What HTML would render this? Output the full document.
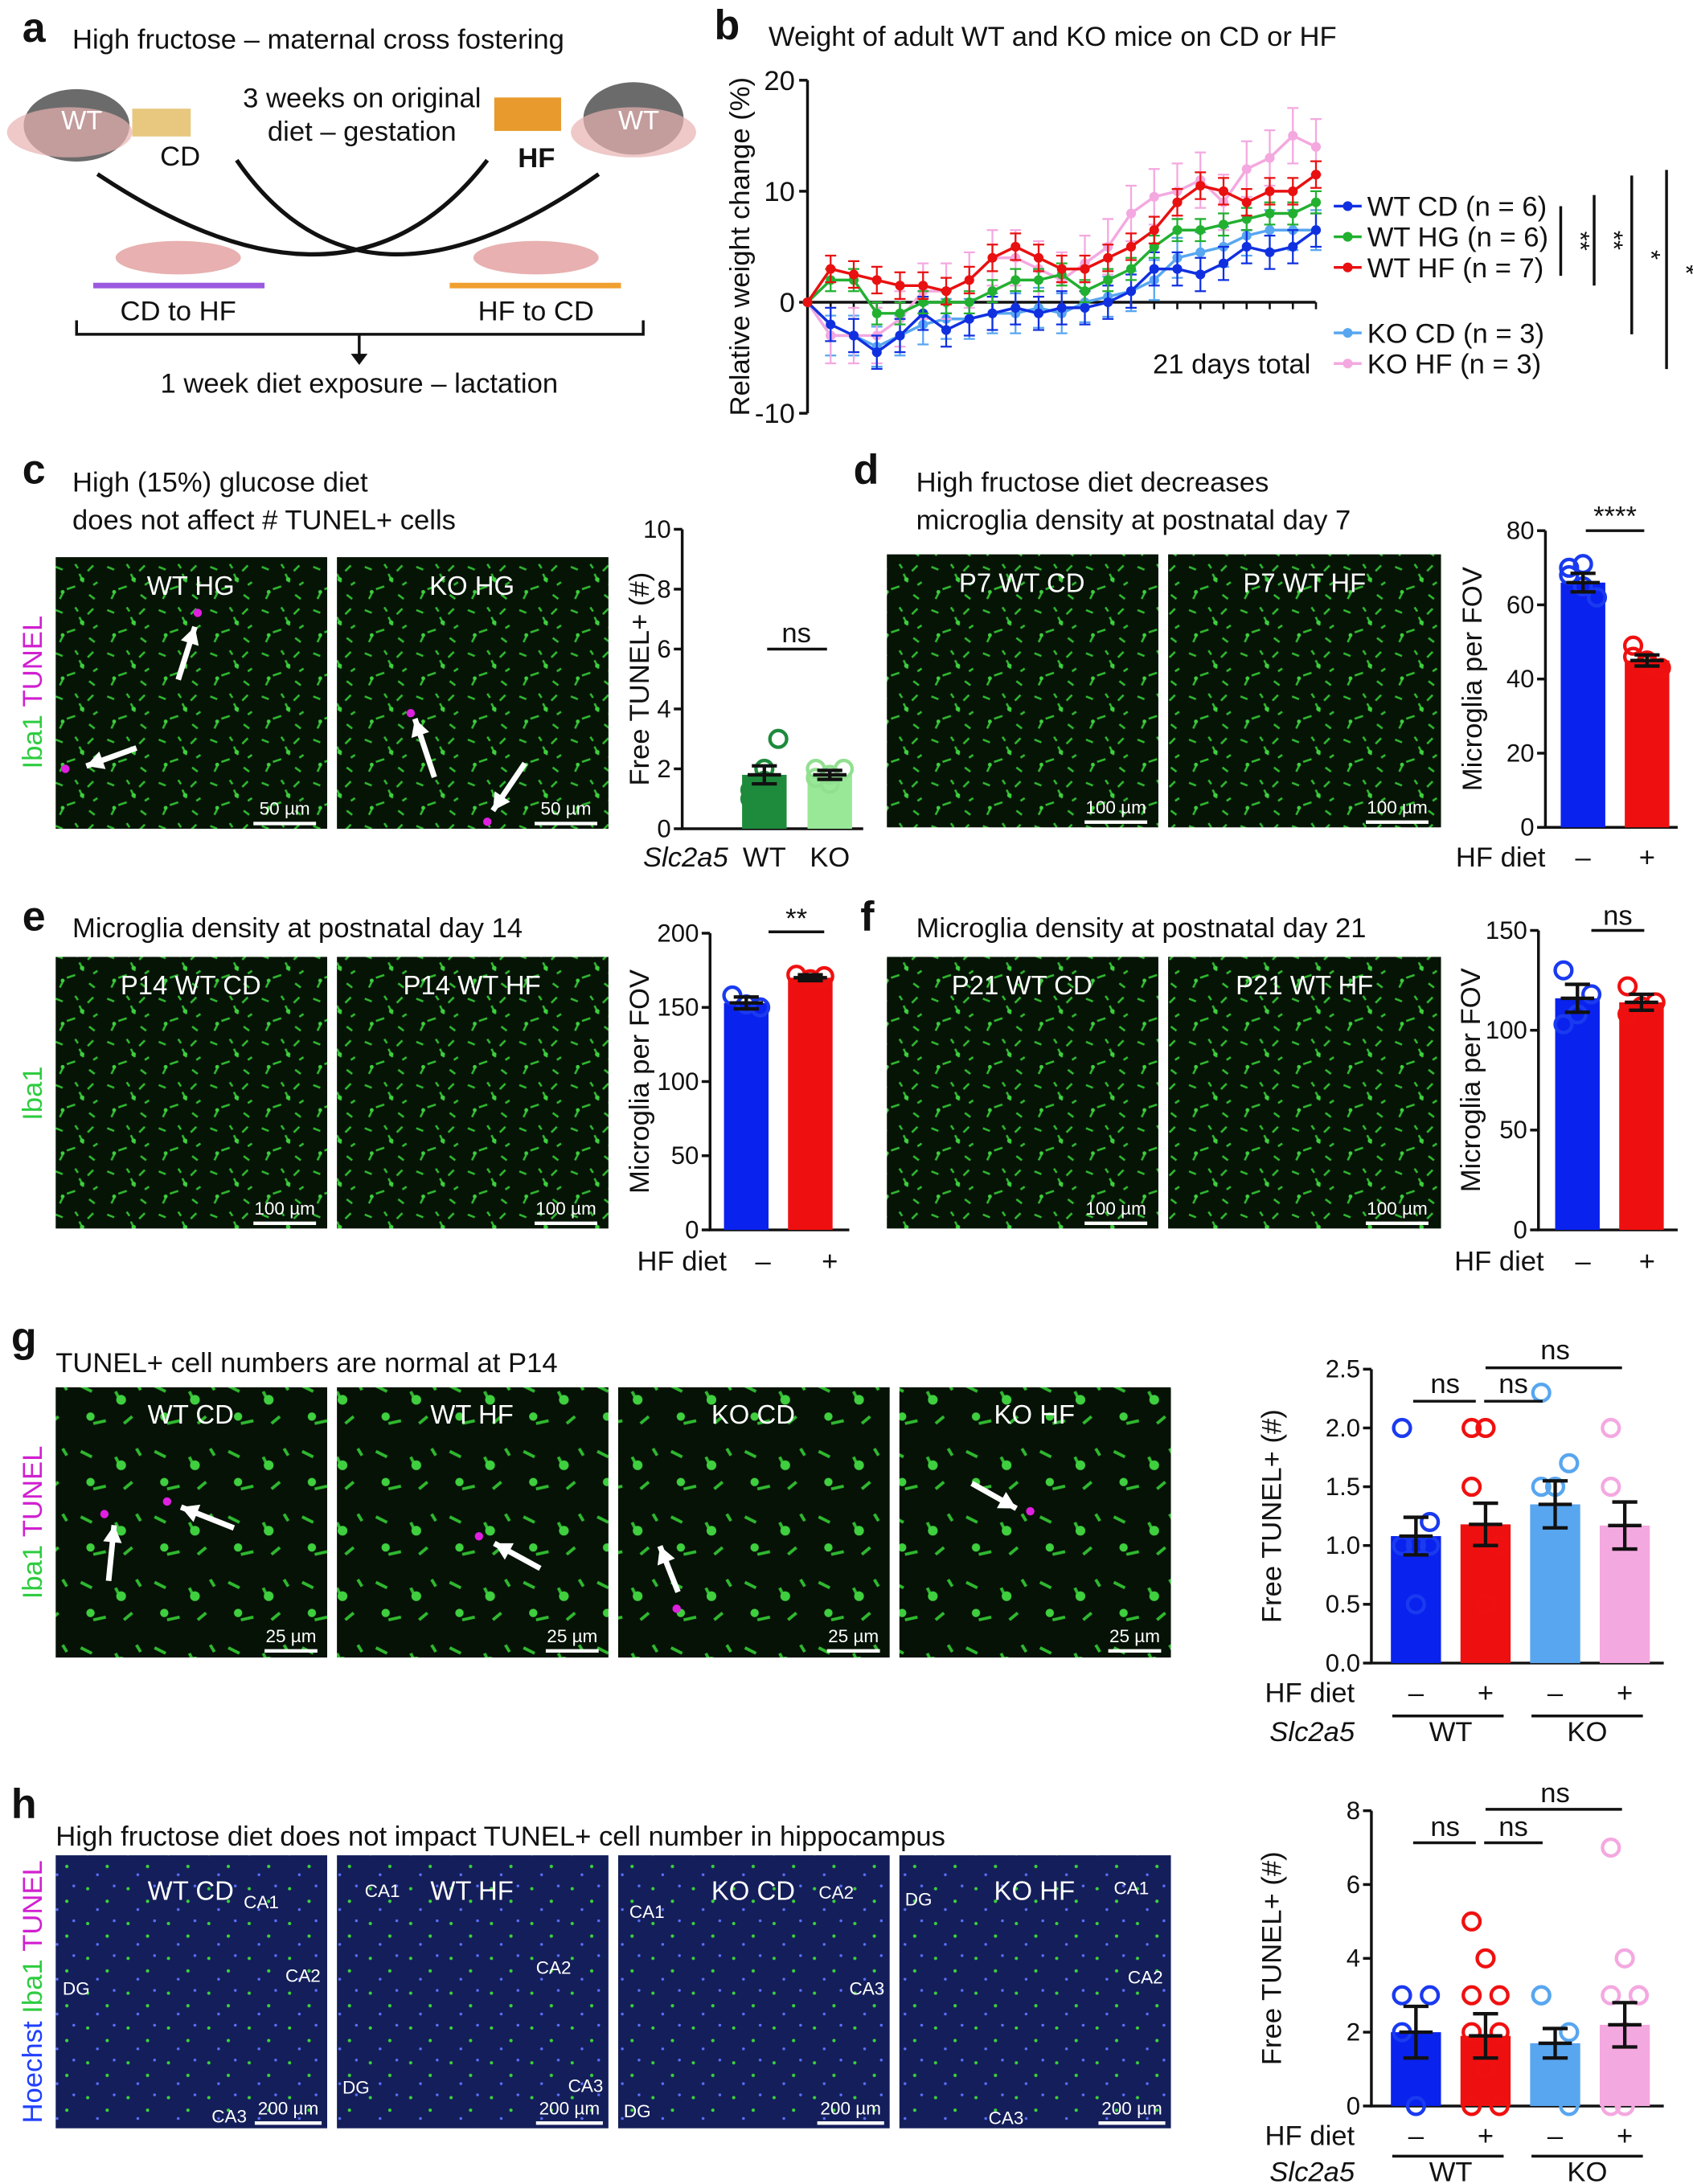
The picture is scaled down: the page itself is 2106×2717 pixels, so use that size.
<!DOCTYPE html>
<html><head><meta charset="utf-8"><style>
html,body{margin:0;padding:0;background:#fff}
svg{display:block}
text{font-family:"Liberation Sans",Arial,sans-serif;fill:#111}
.L{font-size:30px;font-weight:bold}
.t{font-size:20px}
.s{font-size:18px}
.w{fill:#fff;font-size:19px}
</style></head><body>
<svg id="S" width="2106" height="2717" viewBox="0 0 1216 1568" preserveAspectRatio="none" xmlns="http://www.w3.org/2000/svg">
<defs>
<pattern id="pg" width="37" height="31" patternUnits="userSpaceOnUse">
<rect width="37" height="31" fill="#061406"/>
<path d="M3 4l5 2M20 9l3 6M30 3l-4 4M11 20l6-2M27 24l4 3M6 27l2-4M17 2l2 3M33 15l-3 2" stroke="#2fb82f" stroke-width="1.5"/>
<circle cx="22" cy="13" r="1.6" fill="#3fcf3f"/><circle cx="8" cy="22" r="1.4" fill="#3fcf3f"/>
</pattern>
<pattern id="pg2" width="53" height="47" patternUnits="userSpaceOnUse">
<rect width="53" height="47" fill="#051205"/>
<path d="M5 8l8 4M30 12l4 8M42 30l-6 5M14 35l9-2M45 6l3 5" stroke="#2fb82f" stroke-width="2.2"/>
<circle cx="34" cy="18" r="3.5" fill="#3fcf3f"/><circle cx="12" cy="30" r="3" fill="#3fcf3f"/>
</pattern>
<pattern id="pb" width="29" height="25" patternUnits="userSpaceOnUse">
<rect width="29" height="25" fill="#141e5a"/>
<circle cx="5" cy="6" r="1.2" fill="#3ad23a"/><circle cx="19" cy="15" r="1.2" fill="#3ad23a"/>
<circle cx="12" cy="21" r="1" fill="#5a70ff"/><circle cx="24" cy="4" r="1" fill="#5a70ff"/>
</pattern>
</defs>

<text x="16" y="30" class="L">a</text>
<text x="52" y="35" class="t">High fructose – maternal cross fostering</text>
<ellipse cx="55" cy="90" rx="38" ry="26" fill="#6b6b6b"/><ellipse cx="50" cy="95" rx="45" ry="18" fill="#e8b0b0" opacity=".7"/>
<text x="44" y="93" class="w">WT</text>
<rect x="95" y="78" width="42" height="20" fill="#e8c77f"/>
<text x="115" y="119" class="t">CD</text>
<ellipse cx="455" cy="85" rx="36" ry="26" fill="#6b6b6b"/><ellipse cx="455" cy="95" rx="45" ry="18" fill="#e8b0b0" opacity=".7"/>
<text x="444" y="93" class="w">WT</text>
<rect x="355" y="70" width="48" height="24" fill="#e89a2c"/>
<text x="372" y="120" class="t" font-weight="bold">HF</text>
<text x="260" y="77" class="t" text-anchor="middle">3 weeks on original</text>
<text x="260" y="101" class="t" text-anchor="middle">diet – gestation</text>
<path d="M70 125 Q250 245 350 115" fill="none" stroke="#111" stroke-width="3"/>
<path d="M430 125 Q260 245 170 115" fill="none" stroke="#111" stroke-width="3"/>
<ellipse cx="128" cy="185" rx="45" ry="12" fill="#e8b0b0"/><ellipse cx="385" cy="185" rx="45" ry="12" fill="#e8b0b0"/>
<rect x="67" y="203" width="123" height="4" fill="#9b59e0"/>
<rect x="323" y="203" width="123" height="4" fill="#f0a030"/>
<text x="128" y="230" class="t" text-anchor="middle">CD to HF</text>
<text x="385" y="230" class="t" text-anchor="middle">HF to CD</text>
<path d="M55 230v10h407v-10M258 240v18" fill="none" stroke="#111" stroke-width="2"/>
<path d="M252 254l6 8 6-8z" fill="#111"/>
<text x="258" y="282" class="t" text-anchor="middle">1 week diet exposure – lactation</text>

<text x="513" y="28" class="L">b</text>
<text x="552" y="33" class="t">Weight of adult WT and KO mice on CD or HF</text>
<g id="bchart"></g>
<text transform="translate(538,177) rotate(-90)" class="t" text-anchor="middle">Relative weight change (%)</text>
<text x="828" y="268" class="t">21 days total</text>

<text x="16" y="347" class="L">c</text>
<text x="52" y="353" class="t">High (15%) glucose diet</text>
<text x="52" y="380" class="t">does not affect # TUNEL+ cells</text>
<rect x="40" y="400" width="195" height="195" fill="url(#pg)"/>
<rect x="242" y="400" width="195" height="195" fill="url(#pg)"/>
<text x="137" y="427" class="w" text-anchor="middle">WT HG</text><text x="339" y="427" class="w" text-anchor="middle">KO HG</text>
<text transform="translate(30,497) rotate(-90)" class="t" text-anchor="middle"><tspan style="fill:#2ecc40">Iba1</tspan> <tspan style="fill:#d020d0">TUNEL</tspan></text>

<text x="613" y="347" class="L">d</text>
<text x="658" y="353" class="t">High fructose diet decreases</text>
<text x="658" y="380" class="t">microglia density at postnatal day 7</text>
<rect x="637" y="398" width="195" height="196" fill="url(#pg)"/>
<rect x="839" y="398" width="196" height="196" fill="url(#pg)"/>
<text x="734" y="425" class="w" text-anchor="middle">P7 WT CD</text><text x="937" y="425" class="w" text-anchor="middle">P7 WT HF</text>

<text x="16" y="668" class="L">e</text>
<text x="52" y="673" class="t">Microglia density at postnatal day 14</text>
<rect x="40" y="687" width="195" height="195" fill="url(#pg)"/>
<rect x="242" y="687" width="195" height="195" fill="url(#pg)"/>
<text x="137" y="714" class="w" text-anchor="middle">P14 WT CD</text><text x="339" y="714" class="w" text-anchor="middle">P14 WT HF</text>
<text transform="translate(30,785) rotate(-90)" class="t" text-anchor="middle" style="fill:#2ecc40">Iba1</text>
<text x="618" y="668" class="L">f</text>
<text x="658" y="673" class="t">Microglia density at postnatal day 21</text>
<rect x="637" y="687" width="195" height="195" fill="url(#pg)"/>
<rect x="839" y="687" width="196" height="195" fill="url(#pg)"/>
<text x="734" y="714" class="w" text-anchor="middle">P21 WT CD</text><text x="937" y="714" class="w" text-anchor="middle">P21 WT HF</text>

<text x="8" y="970" class="L">g</text>
<text x="40" y="985" class="t">TUNEL+ cell numbers are normal at P14</text>
<rect x="40" y="996" width="195" height="194" fill="url(#pg2)"/>
<rect x="242" y="996" width="195" height="194" fill="url(#pg2)"/>
<rect x="444" y="996" width="195" height="194" fill="url(#pg2)"/>
<rect x="646" y="996" width="195" height="194" fill="url(#pg2)"/>
<text x="137" y="1022" class="w" text-anchor="middle">WT CD</text><text x="339" y="1022" class="w" text-anchor="middle">WT HF</text>
<text x="541" y="1022" class="w" text-anchor="middle">KO CD</text><text x="743" y="1022" class="w" text-anchor="middle">KO HF</text>
<text transform="translate(30,1093) rotate(-90)" class="t" text-anchor="middle"><tspan style="fill:#2ecc40">Iba1</tspan> <tspan style="fill:#d020d0">TUNEL</tspan></text>

<text x="8" y="1305" class="L">h</text>
<text x="40" y="1325" class="t">High fructose diet does not impact TUNEL+ cell number in hippocampus</text>
<rect x="40" y="1332" width="195" height="196" fill="url(#pb)"/>
<rect x="242" y="1332" width="195" height="196" fill="url(#pb)"/>
<rect x="444" y="1332" width="195" height="196" fill="url(#pb)"/>
<rect x="646" y="1332" width="195" height="196" fill="url(#pb)"/>
<text x="137" y="1364" class="w" text-anchor="middle">WT CD</text><text x="339" y="1364" class="w" text-anchor="middle">WT HF</text>
<text x="541" y="1364" class="w" text-anchor="middle">KO CD</text><text x="743" y="1364" class="w" text-anchor="middle">KO HF</text>
<text transform="translate(30,1430) rotate(-90)" class="t" text-anchor="middle"><tspan style="fill:#2040ff">Hoechst</tspan> <tspan style="fill:#2ecc40">Iba1</tspan> <tspan style="fill:#d020d0">TUNEL</tspan></text>
<g id="dyn"></g>
</svg>
<script>
const NS="http://www.w3.org/2000/svg";
function el(p,tag,a,txt){const e=document.createElementNS(NS,tag);for(const k in a)e.setAttribute(k,a[k]);if(txt!=null)e.textContent=txt;p.appendChild(e);return e;}
const D=document.getElementById('dyn');
function sb(x,y,w,lab){el(D,'rect',{x:x,y:y,width:w,height:2.5,fill:'#fff'});el(D,'text',{x:x+w/2,y:y-5,'text-anchor':'middle',style:'fill:#fff;font-size:13px'},lab);}
[[182,590,45,'50 µm'],[384,590,45,'50 µm'],[779,589,45,'100 µm'],[981,589,45,'100 µm'],[182,877,45,'100 µm'],[384,877,45,'100 µm'],[779,877,45,'100 µm'],[981,877,45,'100 µm'],
[190,1184,38,'25 µm'],[392,1184,38,'25 µm'],[594,1184,38,'25 µm'],[796,1184,38,'25 µm'],
[183,1523,48,'200 µm'],[385,1523,48,'200 µm'],[587,1523,48,'200 µm'],[789,1523,48,'200 µm']].forEach(a=>sb(...a));
[[175,1370,'CA1'],[205,1423,'CA2'],[45,1432,'DG'],[152,1524,'CA3'],[262,1362,'CA1'],[385,1417,'CA2'],[246,1503,'DG'],[408,1502,'CA3'],[452,1377,'CA1'],[588,1363,'CA2'],[610,1432,'CA3'],[448,1520,'DG'],[650,1368,'DG'],[800,1360,'CA1'],[810,1424,'CA2'],[710,1525,'CA3']].forEach(a=>el(D,'text',{x:a[0],y:a[1],style:'fill:#fff;font-size:13px'},a[2]));
function arr(x1,y1,x2,y2){el(D,'line',{x1:x1,y1:y1,x2:x2,y2:y2,stroke:'#fff','stroke-width':4});const a=Math.atan2(y2-y1,x2-x1),L=14;
el(D,'path',{d:`M${x2} ${y2}L${x2-L*Math.cos(a-0.5)} ${y2-L*Math.sin(a-0.5)}L${x2-L*Math.cos(a+0.5)} ${y2-L*Math.sin(a+0.5)}Z`,fill:'#fff'});}
[[128,488,140,450],[98,537,62,550],[312,558,298,516],[377,548,354,582],[78,1135,82,1095],[168,1097,130,1082],[388,1126,355,1108],[487,1143,474,1110],[698,1065,730,1083]].forEach(a=>arr(...a));
[[142,440],[47,552],[295,512],[350,590],[75,1087],[120,1078],[344,1103],[486,1155],[740,1085]].forEach(p=>el(D,'circle',{cx:p[0],cy:p[1],r:3,fill:'#e020e0'}));

function bars(o){const g=D;const ax=o.ax,yb=o.y0,yt=o.y1,max=o.max;const sy=v=>yb-(v/max)*(yb-yt);
el(g,'path',{d:`M${ax} ${yt}V${yb}H${o.xe}`,stroke:'#111','stroke-width':2,fill:'none'});
o.ticks.forEach(t=>{el(g,'line',{x1:ax-6,x2:ax,y1:sy(t),y2:sy(t),stroke:'#111','stroke-width':2});el(g,'text',{x:ax-8,y:sy(t)+6,'text-anchor':'end',class:'s'},o.fmt?o.fmt(t):t);});
o.bars.forEach(b=>{el(g,'rect',{x:b[0],y:sy(b[2]),width:b[1],height:yb-sy(b[2]),fill:b[3]});
const cx=b[0]+b[1]/2;(b[5]||[]).forEach((v,i)=>el(g,'circle',{cx:cx+((i%3)-1)*10,cy:sy(v),r:6,fill:'none',stroke:b[4],'stroke-width':2.5}));
const e=b[6]||0;el(g,'path',{d:`M${cx} ${sy(b[2]-e)}V${sy(b[2]+e)}M${cx-9} ${sy(b[2]-e)}h18M${cx-9} ${sy(b[2]+e)}h18M${cx-12} ${sy(b[2])}h24`,stroke:'#111','stroke-width':2.5});});
el(g,'text',{transform:`translate(${o.lx},${(yb+yt)/2}) rotate(-90)`,'text-anchor':'middle',class:'t'},o.lab);
(o.xl||[]).forEach(x=>el(g,'text',{x:x[0],y:x[1],'text-anchor':x[3]||'middle',class:'t',style:x[4]||''},x[2]));}
bars({ax:490,y0:595,y1:380,max:10,xe:620,ticks:[0,2,4,6,8,10],lx:466,lab:'Free TUNEL+ (#)',
bars:[[533,32,1.8,'#1e8a3c','#1e8a3c',[1,2,3,1.3,1.6],0.3],[580,32,1.8,'#98e898','#90e090',[2,1.5,2,1.7,1.8],0.15]],
xl:[[523,622,'Slc2a5','end','font-style:italic'],[549,622,'WT'],[596,622,'KO'],[572,461,'ns']]});
el(D,'line',{x1:551,x2:594,y1:466,y2:466,stroke:'#111','stroke-width':2});
bars({ax:1110,y0:594,y1:381,max:80,xe:1205,ticks:[0,20,40,60,80],lx:1064,lab:'Microglia per FOV',
bars:[[1121,32,66,'#0a22ee','#1a3af0',[70,65,62,68,71],2.5],[1167,32,45,'#ee1010','#f01010',[49,45,43,46,44],1.5]],
xl:[[1110,622,'HF diet','end'],[1137,622,'–'],[1183,622,'+'],[1160,377,'****']]});
el(D,'line',{x1:1139,x2:1181,y1:381,y2:381,stroke:'#111','stroke-width':2});
bars({ax:510,y0:883,y1:670,max:200,xe:610,ticks:[0,50,100,150,200],lx:466,lab:'Microglia per FOV',
bars:[[520,32,153,'#0a22ee','#1a3af0',[158,152,150],4],[566,32,170,'#ee1010','#f01010',[172,169,171],2]],
xl:[[522,912,'HF diet','end'],[548,912,'–'],[596,912,'+'],[572,666,'**']]});
el(D,'line',{x1:552,x2:592,y1:669,y2:669,stroke:'#111','stroke-width':2});
bars({ax:1105,y0:883,y1:668,max:150,xe:1205,ticks:[0,50,100,150],lx:1063,lab:'Microglia per FOV',
bars:[[1117,32,116,'#0a22ee','#1a3af0',[130,108,118,103],7],[1163,32,114,'#ee1010','#f01010',[122,112,114,108],4]],
xl:[[1109,912,'HF diet','end'],[1137,912,'–'],[1183,912,'+'],[1162,664,'ns']]});
el(D,'line',{x1:1143,x2:1181,y1:668,y2:668,stroke:'#111','stroke-width':2});
const gb=[[999,36,'#0a22ee','#1a3af0'],[1049,36,'#ee1010','#f01010'],[1099,36,'#58a6f0','#58a6f0'],[1149,36,'#f4a8e0','#f4a8e0']];
bars({ax:985,y0:1194,y1:983,max:2.5,xe:1195,ticks:[0,0.5,1,1.5,2,2.5],fmt:t=>t.toFixed(1),lx:920,lab:'Free TUNEL+ (#)',
bars:[[...gb[0].slice(0,2),1.08,gb[0][2],gb[0][3],[2,1,1,1,0.5,1.2],0.16],[...gb[1].slice(0,2),1.18,gb[1][2],gb[1][3],[2,2,1,1.5,0.5,1],0.18],[...gb[2].slice(0,2),1.35,gb[2][2],gb[2][3],[2.3,1.5,1,1.5,1,1.7],0.2],[...gb[3].slice(0,2),1.17,gb[3][2],gb[3][3],[2,1,1,1.5,1,1],0.2]],
xl:[[973,1222,'HF diet','end'],[1017,1222,'–'],[1067,1222,'+'],[1117,1222,'–'],[1167,1222,'+'],[973,1250,'Slc2a5','end','font-style:italic'],[1042,1250,'WT'],[1140,1250,'KO'],[1038,1000,'ns'],[1087,1000,'ns'],[1117,976,'ns']]});
bars({ax:985,y0:1512,y1:1300,max:8,xe:1195,ticks:[0,2,4,6,8],lx:920,lab:'Free TUNEL+ (#)',
bars:[[...gb[0].slice(0,2),2,gb[0][2],gb[0][3],[3,0,3,2],0.7],[...gb[1].slice(0,2),1.9,gb[1][2],gb[1][3],[5,4,3,2,1,0,0,1,2,3],0.6],[...gb[2].slice(0,2),1.7,gb[2][2],gb[2][3],[3,1,2,3,1,0],0.4],[...gb[3].slice(0,2),2.2,gb[3][2],gb[3][3],[7,4,3,3,2,1,0,0,3],0.6]],
xl:[[973,1540,'HF diet','end'],[1017,1540,'–'],[1067,1540,'+'],[1117,1540,'–'],[1167,1540,'+'],[973,1566,'Slc2a5','end','font-style:italic'],[1042,1566,'WT'],[1140,1566,'KO'],[1038,1318,'ns'],[1087,1318,'ns'],[1117,1294,'ns']]});
[[1015,1060,1006],[1066,1108,1006],[1067,1165,982],[1015,1060,1323],[1066,1108,1323],[1067,1165,1299]].forEach(a=>el(D,'line',{x1:a[0],x2:a[1],y1:a[2],y2:a[2],stroke:'#111','stroke-width':2}));
[[1000,1232,1080],[1100,1232,1180],[1000,1548,1080],[1100,1548,1180]].forEach(a=>el(D,'line',{x1:a[0],x2:a[2],y1:a[1],y2:a[1],stroke:'#111','stroke-width':2}));

const B=document.getElementById('bchart');
const x0=580,dx=16.6,yz=217,k=7.97,sy=v=>yz-v*k;
el(B,'path',{d:`M${x0} ${sy(20)}V${sy(-10)}M${x0} ${yz}H945`,stroke:'#111','stroke-width':2,fill:'none'});
[20,10,0,-10].forEach(t=>{el(B,'line',{x1:x0-6,x2:x0,y1:sy(t),y2:sy(t),stroke:'#111','stroke-width':2});el(B,'text',{x:x0-9,y:sy(t)+7,'text-anchor':'end',class:'t'},t);});
for(let i=1;i<23;i++)el(B,'line',{x1:x0+i*dx,x2:x0+i*dx,y1:yz,y2:yz+5,stroke:'#111','stroke-width':1.5});
const S=[
['#58a6f0',[0,-3,-3,-4,-3,-2,-1.5,-1.5,-1,-1,-0.5,-1,0,0.5,1,2,4,4.5,5,6,6.5,6.5,6.5],1.8],
['#f4a8e0',[0,-3,-3,-3,-1.5,1,1,2,4,4,3,2,3.5,5,8,9.5,10,11,9,12,13,15,14],2.5],
['#1030e0',[0,-2,-3,-4.5,-3,-1,-2.5,-1.5,-1,-0.5,-1,-0.5,-0.5,0,1,3,3,2.5,3.5,5,4.5,5,6.5],1.5],
['#22b030',[0,2,2,-1,-1,0,0,0,1,2,2,2.5,1,2,3,5,6.5,6.5,7,7.5,8,8,9],1],
['#e81010',[0,3,2.5,2,1.5,1.5,1,2,4,5,4,3,3,4,5,6.5,9,10.5,10,9,10,10,11.5],1.2]];
S.forEach(s=>{let d='';s[1].forEach((v,i)=>{const x=x0+i*dx;d+=(i?'L':'M')+x+' '+sy(v);if(i)el(B,'path',{d:`M${x} ${sy(v-s[2])}V${sy(v+s[2])}M${x-4} ${sy(v+s[2])}h8M${x-4} ${sy(v-s[2])}h8`,stroke:s[0],'stroke-width':1.3});});
el(B,'path',{d:d,stroke:s[0],'stroke-width':2,fill:'none'});s[1].forEach((v,i)=>el(B,'circle',{cx:x0+i*dx,cy:sy(v),r:3.5,fill:s[0]}));});
[['#1030e0',148,'WT CD (n = 6)'],['#22b030',170,'WT HG (n = 6)'],['#e81010',192,'WT HF (n = 7)'],['#58a6f0',239,'KO CD (n = 3)'],['#f4a8e0',261,'KO HF (n = 3)']].forEach(l=>{
el(B,'line',{x1:958,x2:978,y1:l[1],y2:l[1],stroke:l[0],'stroke-width':2});el(B,'circle',{cx:968,cy:l[1],r:3.5,fill:l[0]});
el(B,'text',{x:982,y:l[1]+7,class:'t'},l[2]);});
[[1121,148,198,'**'],[1145,140,205,'**'],[1172,126,240,'*'],[1197,122,265,'*']].forEach(a=>{el(B,'line',{x1:a[0],x2:a[0],y1:a[1],y2:a[2],stroke:'#111','stroke-width':2});
el(B,'text',{transform:`translate(${a[0]+8},${(a[1]+a[2])/2}) rotate(90)`,'text-anchor':'middle',class:'s'},a[3]);});
</script>
</body></html>
